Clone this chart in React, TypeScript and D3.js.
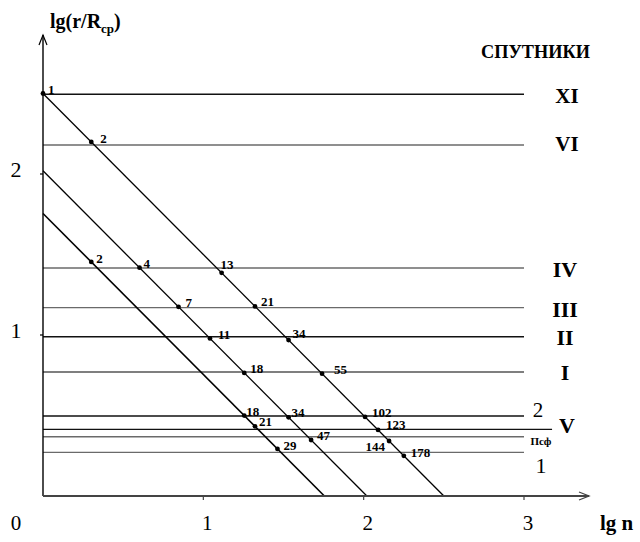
import React from "react";
import * as d3 from "d3";

// Horizontal levels: satellite orbits and reference radii, in lg(r/R_ср)
const levelNames = ["XI", "VI", "IV", "III", "II", "I", "2", "V", "Псф", "1"];
const levelValues = [2.495, 2.18, 1.416, 1.17, 0.989, 0.77, 0.497, 0.414, 0.368, 0.271];

// Diagonal families lg(r/R) = c − lg n
const familyIntercepts = [1.755, 2.02, 2.5];
const familyN: number[][] = [
  [2, 18, 21, 29],
  [4, 7, 11, 18, 34, 47],
  [1, 2, 13, 21, 34, 55, 102, 123, 144, 178],
];

const xTicks = [0, 1, 2, 3];
const yTicks = [1, 2];

// Label layout for each point: [dx, dy, anchor]
const pointLabelLayout: [number, number, string][][] = [
  [[5, 1, "start"], [2, 0, "start"], [4, 0, "start"], [6, 1, "start"]],
  [[4, 0, "start"], [7, 0, "start"], [8, 1, "start"], [6, 0, "start"], [3, 0, "start"], [6, 0, "start"]],
  [
    [5, 0, "start"], [9, 1, "start"], [-1, -4, "start"], [6, 0, "start"], [4, -2, "start"],
    [12, 0, "start"], [7, 0, "start"], [8, -1, "start"], [-4, 10, "end"], [7, 1, "start"],
  ],
];

// Level line styles and label layout
const levelStyle: Record<string, { color: string; end: number }> = {
  XI: { color: "#111", end: 3 },
  VI: { color: "#6a6a6a", end: 3 },
  IV: { color: "#6a6a6a", end: 3 },
  III: { color: "#6a6a6a", end: 3 },
  II: { color: "#111", end: 3 },
  I: { color: "#555", end: 3 },
  "2": { color: "#111", end: 3 },
  V: { color: "#111", end: 3.175 },
  "Псф": { color: "#6a6a6a", end: 3 },
  "1": { color: "#6a6a6a", end: 3 },
};

const levelLabel: Record<string, { x: number; y: number; size: number; weight: string }> = {
  XI: { x: 567, y: 103, size: 21, weight: "bold" },
  VI: { x: 567, y: 151, size: 21, weight: "bold" },
  IV: { x: 565, y: 277, size: 22, weight: "bold" },
  III: { x: 565, y: 317, size: 22, weight: "bold" },
  II: { x: 565, y: 345, size: 22, weight: "bold" },
  I: { x: 565, y: 380, size: 22, weight: "bold" },
  "2": { x: 538, y: 417, size: 21, weight: "normal" },
  V: { x: 567, y: 433, size: 22, weight: "bold" },
  "Псф": { x: 541, y: 445, size: 11, weight: "bold" },
  "1": { x: 541, y: 473, size: 22, weight: "normal" },
};

const FONT = "'Liberation Serif', 'Times New Roman', serif";

export default function App() {
  const width = 640;
  const height = 542;
  const x = d3.scaleLinear().domain([0, 3]).range([43, 524]);
  const y = d3.scaleLinear().domain([0, 2]).range([496, 174]);

  const diag = d3
    .line<[number, number]>()
    .x((d) => x(d[0]))
    .y((d) => y(d[1]));

  return (
    <svg
      width={width}
      height={height}
      style={{ position: "absolute", left: 0, top: 0, background: "#fff" }}
      fontFamily={FONT}
    >
      {/* level lines */}
      {levelNames.map((name, i) => (
        <line
          key={"lv" + name}
          x1={x(0)}
          x2={x(levelStyle[name].end)}
          y1={y(levelValues[i])}
          y2={y(levelValues[i])}
          stroke={levelStyle[name].color}
          strokeWidth={1.4}
        />
      ))}

      {/* diagonal families */}
      {familyIntercepts.map((c, i) => (
        <path
          key={"fam" + i}
          d={diag([
            [0, c],
            [c, 0],
          ]) || ""}
          fill="none"
          stroke="#000"
          strokeWidth={i === 0 ? 1.6 : 1.3}
        />
      ))}

      {/* axes */}
      <line x1={x(0)} x2={x(0)} y1={y(0)} y2={35} stroke="#000" strokeWidth={1.4} />
      <path d={`M${x(0) - 4},${45} L${x(0)},${35} L${x(0) + 4},${45}`} fill="none" stroke="#000" strokeWidth={1.2} />
      <line x1={x(0)} x2={589} y1={y(0)} y2={y(0)} stroke="#444" strokeWidth={2} />
      <path d={`M${579},${y(0) - 4} L${589},${y(0)} L${579},${y(0) + 4}`} fill="none" stroke="#444" strokeWidth={1.3} />

      {xTicks.slice(1).map((t) => (
        <line key={"xt" + t} x1={x(t)} x2={x(t)} y1={y(0)} y2={y(0) + 4} stroke="#444" strokeWidth={1.2} />
      ))}
      {yTicks.map((t) => (
        <line key={"yt" + t} x1={x(0) - 3} x2={x(0)} y1={y(t)} y2={y(t)} stroke="#000" strokeWidth={1.2} />
      ))}

      {/* tick labels */}
      {xTicks.map((t) => (
        <text
          key={"xl" + t}
          x={t === 0 ? 16 : x(t) + 4}
          y={530}
          fontSize={21}
          textAnchor="middle"
          fill="#000"
        >
          {t}
        </text>
      ))}
      {yTicks.map((t) => (
        <text key={"yl" + t} x={16} y={y(t) + 3} fontSize={22} textAnchor="middle" fill="#000">
          {t}
        </text>
      ))}
      <text x={600} y={530} fontSize={21} fontWeight="bold" fill="#000">
        lg n
      </text>
      <text x={50} y={28} fontSize={20} fontWeight="bold" fill="#000">
        lg(r/R
        <tspan fontSize={13} dy={5}>
          ср
        </tspan>
        <tspan dy={-5}>)</tspan>
      </text>
      <text x={481} y={58} fontSize={18} fontWeight="bold" fill="#000" textLength={109} lengthAdjust="spacingAndGlyphs">
        СПУТНИКИ
      </text>

      {/* level labels */}
      {levelNames.map((name) => {
        const l = levelLabel[name];
        return (
          <text
            key={"ll" + name}
            x={l.x}
            y={l.y}
            fontSize={l.size}
            fontWeight={l.weight}
            textAnchor="middle"
            fill="#000"
          >
            {name}
          </text>
        );
      })}

      {/* points with n labels */}
      {familyN.map((ns, fi) =>
        ns.map((n, pi) => {
          const lx = Math.log10(n);
          const ly = familyIntercepts[fi] - lx;
          const px = x(lx);
          const py = y(ly);
          const [dx, dy, anchor] = pointLabelLayout[fi][pi];
          return (
            <g key={"p" + fi + "-" + pi}>
              <circle cx={px} cy={py} r={2.4} fill="#000" />
              <text
                x={px + dx}
                y={py + dy}
                fontSize={13}
                fontWeight="bold"
                textAnchor={anchor}
                fill="#000"
              >
                {n}
              </text>
            </g>
          );
        })
      )}
    </svg>
  );
}
